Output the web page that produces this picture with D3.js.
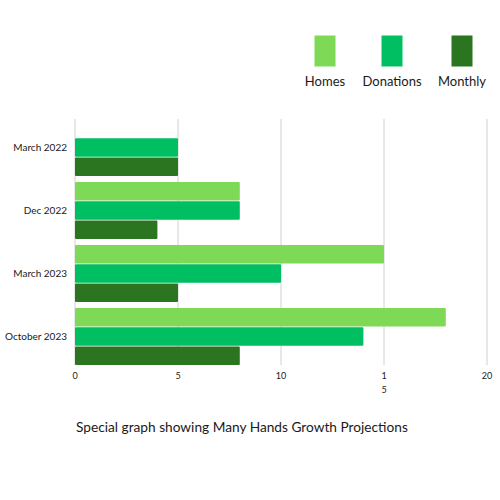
<!DOCTYPE html>
<html lang="en">
    <head>
        <title>Many Hands Growth Projections</title>
        <script src="https://d3js.org/d3.v7.min.js"></script>
        <style>
            body { margin: 0; background: #ffffff; }
            text { font-family: Lato, "Open Sans", sans-serif; fill: #1a1a1a; }
        </style>
    </head>
    <body>
    <div id="mainDiv">
    </div>

        <script type="text/javascript">
            // data
            const categories = ['March 2022', 'Dec 2022', 'March 2023', 'October 2023']
            const seriesNames = ['Homes', 'Donations', 'Monthly']
            const homes = [0, 8, 15, 18]
            const donations = [5, 8, 10, 14]
            const monthly = [5, 4, 5, 8]
            const tickValues = [0, 5, 10, 15, 20]
            const colours = ['#7ed957', '#00bf63', '#2b7520']

            const width = 500
            const height = 500

            const margins = {
                top: 119,
                bottom: 135,
                left: 75,
                right: 13
            }

            const bounded = {
                width: width - margins.left - margins.right,
                height: height - margins.top - margins.bottom
            }

            const rows = categories.map((c, i) => ({
                category: c,
                values: [homes[i], donations[i], monthly[i]]
            }))

            const svg = d3.select('#mainDiv').append('svg')
                .attr('width', width)
                .attr('height', height)

            const group = svg.append('g')
                .attr('transform', `translate(${margins.left}, ${margins.top})`)

            const x = d3.scaleLinear()
                .domain([0, 20])
                .range([0, bounded.width])

            const y = d3.scaleBand()
                .domain(categories)
                .range([0, bounded.height])
                .paddingInner(0.095)
                .paddingOuter(0)

            const ySub = d3.scaleBand()
                .domain(seriesNames)
                .range([0, y.bandwidth()])
                .paddingInner(0.03)

            // grid lines
            group.append('g')
                .selectAll('line')
                .data(tickValues)
                .join('line')
                .attr('x1', d => x(d))
                .attr('x2', d => x(d))
                .attr('y1', 0)
                .attr('y2', bounded.height)
                .attr('stroke', '#d0d0d0')
                .attr('stroke-width', 1)

            // bars
            const groups = group.selectAll('.row')
                .data(rows)
                .join('g')
                .attr('class', 'row')
                .attr('transform', d => `translate(0, ${y(d.category)})`)

            groups.selectAll('rect')
                .data(d => d.values.map((v, i) => ({ name: seriesNames[i], value: v, colour: colours[i] })))
                .join('rect')
                .attr('x', x(0))
                .attr('y', d => ySub(d.name))
                .attr('width', d => x(d.value) - x(0))
                .attr('height', ySub.bandwidth())
                .attr('rx', 1)
                .attr('fill', d => d.colour)

            // category labels
            group.append('g')
                .selectAll('text')
                .data(categories)
                .join('text')
                .attr('x', -8)
                .attr('y', d => y(d) + y.bandwidth() / 2)
                .attr('dy', '0.35em')
                .attr('text-anchor', 'end')
                .style('font-size', '10px')
                .text(d => d)

            // x tick labels (15 is wrapped onto two lines in the original)
            const ticks = group.append('g')
                .attr('transform', `translate(0, ${bounded.height + 14})`)
                .selectAll('text')
                .data(tickValues)
                .join('text')
                .attr('x', d => x(d))
                .attr('text-anchor', 'middle')
                .style('font-size', '9px')

            ticks.each(function (d) {
                const t = d3.select(this)
                const s = String(d)
                if (d === 15) {
                    t.append('tspan').attr('x', x(d)).attr('y', 0).text(s[0])
                    t.append('tspan').attr('x', x(d)).attr('y', 14).text(s[1])
                } else {
                    t.text(s)
                }
            })

            // legend
            const legendX = [325, 392, 462]
            const legend = svg.append('g')
                .selectAll('g')
                .data(seriesNames)
                .join('g')
                .attr('transform', (d, i) => `translate(${legendX[i]}, 0)`)

            legend.append('rect')
                .attr('x', -10.5)
                .attr('y', 35.5)
                .attr('width', 21)
                .attr('height', 31)
                .attr('fill', (d, i) => colours[i])

            legend.append('text')
                .attr('x', 0)
                .attr('y', 86)
                .attr('text-anchor', 'middle')
                .style('font-size', '13px')
                .text(d => d)

            // caption
            svg.append('text')
                .attr('x', 76)
                .attr('y', 432)
                .style('font-size', '13.7px')
                .text('Special graph showing Many Hands Growth Projections')
        </script>
    </body>
</html>
